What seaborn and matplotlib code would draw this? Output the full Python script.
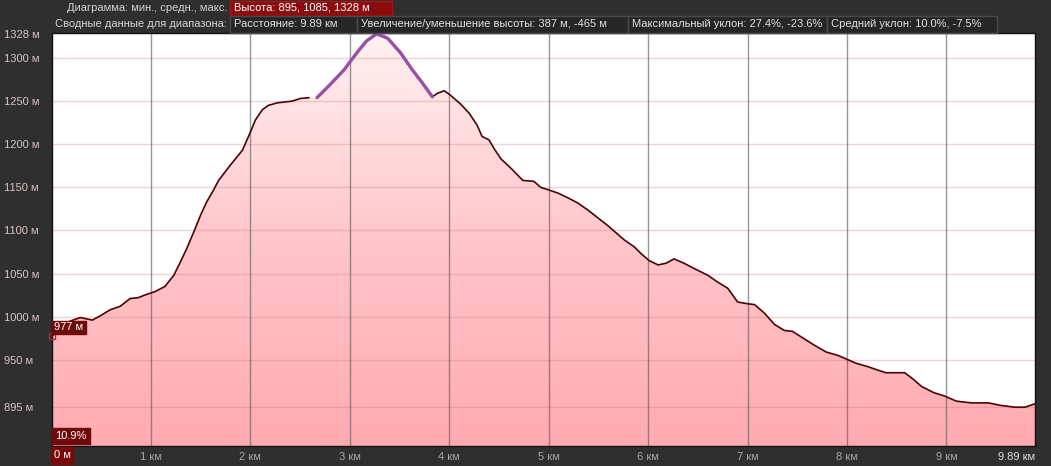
import numpy as np
import pandas as pd
import matplotlib
matplotlib.use("Agg")
import matplotlib.pyplot as plt
from matplotlib.colors import LinearSegmentedColormap
from matplotlib.patches import Rectangle
import seaborn as sns

# ---------------- data ----------------
# profile before the highlighted summary section
seg1_km = [0.00, 0.09, 0.19, 0.29, 0.41, 0.49, 0.59, 0.69, 0.79, 0.87, 0.96, 1.04,
           1.14, 1.23, 1.29, 1.36, 1.43, 1.50, 1.56, 1.63, 1.68, 1.80, 1.92, 2.00,
           2.05, 2.12, 2.18, 2.27, 2.35, 2.42, 2.50, 2.59]
seg1_m = [977, 986, 995, 999, 996, 1001, 1008, 1012, 1021, 1022, 1026, 1029,
          1035, 1048, 1062, 1079, 1098, 1118, 1133, 1147, 1158, 1176, 1193, 1214,
          1228, 1240, 1245, 1248, 1249, 1250, 1253, 1254]
# hand-drawn (purple) summit section
peak_km = [2.67, 2.80, 2.94, 3.07, 3.17, 3.27, 3.38, 3.51, 3.63, 3.73, 3.83]
peak_m = [1254, 1269, 1286, 1306, 1320, 1328, 1323, 1306, 1286, 1271, 1255]
# profile after the summit
seg2_km = [3.83, 3.88, 3.95, 4.01, 4.11, 4.20, 4.28, 4.33, 4.40, 4.45, 4.52, 4.63,
           4.74, 4.85, 4.92, 5.00, 5.10, 5.19, 5.29, 5.39, 5.49, 5.59, 5.68, 5.76,
           5.86, 5.93, 6.01, 6.10, 6.18, 6.26, 6.36, 6.46, 6.60, 6.70, 6.80, 6.90,
           7.00, 7.07, 7.17, 7.27, 7.37, 7.45, 7.56, 7.67, 7.79, 7.91, 8.01, 8.09,
           8.21, 8.31, 8.39, 8.58, 8.66, 8.75, 8.87, 8.98, 9.10, 9.25, 9.42, 9.55,
           9.69, 9.79, 9.89]
seg2_m = [1255, 1259, 1262, 1257, 1247, 1236, 1222, 1209, 1205, 1195, 1183, 1171,
          1158, 1157, 1150, 1147, 1143, 1138, 1132, 1124, 1115, 1106, 1097, 1089,
          1081, 1073, 1065, 1060, 1062, 1067, 1062, 1056, 1048, 1040, 1033, 1017,
          1015, 1014, 1004, 991, 984, 983, 975, 967, 959, 955, 950, 946,
          942, 938, 935, 935, 928, 919, 912, 908, 902, 900, 900, 897,
          895, 895, 899]

ytick_vals = [895, 950, 1000, 1050, 1100, 1150, 1200, 1250, 1300, 1328]
ytick_labels = ["895 м", "950 м", "1000 м", "1050 м", "1100 м", "1150 м",
                "1200 м", "1250 м", "1300 м", "1328 м"]
ygrid_vals = [895, 950, 1000, 1050, 1100, 1150, 1200, 1250, 1300]
xtick_vals = [1, 2, 3, 4, 5, 6, 7, 8, 9]
xtick_labels = ["1 км", "2 км", "3 км", "4 км", "5 км", "6 км", "7 км", "8 км", "9 км"]
x_end_label = "9.89 км"
x_start_label = "0 м"

header1_label = "Диаграмма: мин., средн., макс."
header1_box = "Высота: 895, 1085, 1328 м"
header2_label = "Сводные данные для диапазона:"
header2_boxes = ["Расстояние: 9.89 км",
                 "Увеличение/уменьшение высоты: 387 м, -465 м",
                 "Максимальный уклон: 27.4%, -23.6%",
                 "Средний уклон: 10.0%, -7.5%"]
cursor_km, cursor_m = [0.0], [977]
cursor_label = "977 м"
grade_label = "10.9%"

# ---------------- style ----------------
W, H = 1051, 466
BG = "#2f2f2f"
sns.set_theme(style="white")
plt.rcParams["font.family"] = ["Liberation Sans", "DejaVu Sans"]
plt.rcParams["font.size"] = 8

fig = plt.figure(figsize=(W / 100, H / 100), dpi=100, facecolor=BG)
L, R, T, B = 51.5, 1035, 33, 446
ax = fig.add_axes([L / W, (H - B) / H, (R - L) / W, (B - T) / H])
ax.set_facecolor("white")
YMIN, YMAX = 850, 1329
XMAX = 9.89

all_km = seg1_km + peak_km + seg2_km[1:]
all_m = seg1_m + peak_m + seg2_m[1:]

# gradient fill under the profile
poly = ax.fill_between(all_km, all_m, YMIN, facecolor="none", edgecolor="none")
cmap = LinearSegmentedColormap.from_list("g", ["#ffabb1", "#ffc6ca", "#fff1f2"])
grad = np.linspace(0, 1, 256).reshape(-1, 1)
im = ax.imshow(grad, aspect="auto", cmap=cmap, origin="lower",
               extent=[0, XMAX, YMIN, YMAX], zorder=1)
im.set_clip_path(poly.get_paths()[0], transform=ax.transData)

# grid lines (drawn over the fill, semi-transparent)
for v in ygrid_vals:
    ax.axhline(v, color=(0.78, 0.45, 0.45), alpha=0.3, lw=1, zorder=2)
for v in xtick_vals:
    ax.axvline(v, color=(0.33, 0.33, 0.33), alpha=0.6, lw=1, zorder=2)

# profile lines
df1 = pd.DataFrame({"km": seg1_km, "m": seg1_m})
df2 = pd.DataFrame({"km": seg2_km, "m": seg2_m})
dfp = pd.DataFrame({"km": peak_km, "m": peak_m})
sns.lineplot(data=df1, x="km", y="m", ax=ax, color="#4a0505", lw=1.2,
             estimator=None, sort=False, zorder=3)
sns.lineplot(data=df2, x="km", y="m", ax=ax, color="#4a0505", lw=1.2,
             estimator=None, sort=False, zorder=3)
sns.lineplot(data=dfp, x="km", y="m", ax=ax, color="#9a4ea6", lw=2.4,
             estimator=None, sort=False, zorder=4, solid_capstyle="round")

# cursor marker
ax.plot(cursor_km, cursor_m, marker="s", ms=5, mfc="none", mec="#c8202a",
        mew=1, ls="none", zorder=6, clip_on=False)

ax.set_xlim(0, XMAX)
ax.set_ylim(YMIN, YMAX)
ax.set_xlabel("")
ax.set_ylabel("")
ax.set_xticks([])
ax.set_yticks(ytick_vals)
ax.set_yticklabels(ytick_labels, color="#dcc4c4", fontsize=8)
for lab in ax.get_yticklabels():
    lab.set_horizontalalignment("left")
ax.tick_params(axis="y", length=0, pad=(L - 4) * 72 / 100)
for s in ax.spines.values():
    s.set_color("#111111")
    s.set_linewidth(1)

# x labels in the bottom strip
trans_x = ax.get_xaxis_transform()
for v, t in zip(xtick_vals, xtick_labels):
    ax.text(v, -0.5 * (466 - B) / (B - T) - 0.003, t, transform=trans_x,
            ha="center", va="center", color="#a8a8a8", fontsize=8, clip_on=False)
ax.text(XMAX, -0.5 * (466 - B) / (B - T) - 0.003, x_end_label, transform=trans_x,
        ha="right", va="center", color="#dedede", fontsize=8, clip_on=False)


def fig_box(x0, y0, x1, y1, fc, ec, lw=1):
    fig.patches.append(Rectangle((x0 / W, 1 - y1 / H), (x1 - x0) / W, (y1 - y0) / H,
                                 transform=fig.transFigure, facecolor=fc,
                                 edgecolor=ec, lw=lw, zorder=5))


def fig_text(x, y, s, color="#e0e0e0", ha="left"):
    fig.text(x / W, 1 - y / H, s, color=color, ha=ha, va="center", fontsize=8, zorder=6)


# "0 м" box
fig_box(51, 447, 73, 464, "#7a0a0a", "#7a0a0a")
fig_text(54, 455.5, x_start_label, color="#ffffff")

# cursor boxes
fig_box(52, 321, 86, 334, "#6e0a0a", "#6e0a0a")
fig_text(54, 327.5, cursor_label, color="#ffffff")
fig_box(52, 428, 90, 444, "#6e0a0a", "#6e0a0a")
fig_text(55, 436, grade_label, color="#ffffff")

# header row 1
fig_text(227, 8, header1_label, color="#d6d6d6", ha="right")
fig_box(230, 0.5, 392, 15.5, "#8a0c0c", "#a01818")
fig_text(234, 8, header1_box, color="#ffffff")

# header row 2
fig_text(227, 24, header2_label, color="#d6d6d6", ha="right")
edges = [230, 357, 628, 827, 997]
for i, s in enumerate(header2_boxes):
    fig_box(edges[i], 16, edges[i + 1], 32.5, "#262626", "#4a4a4a")
    fig_text(edges[i] + 4, 24, s, color="#e2e2e2")

fig.savefig("out.png", dpi=100, facecolor=BG)
